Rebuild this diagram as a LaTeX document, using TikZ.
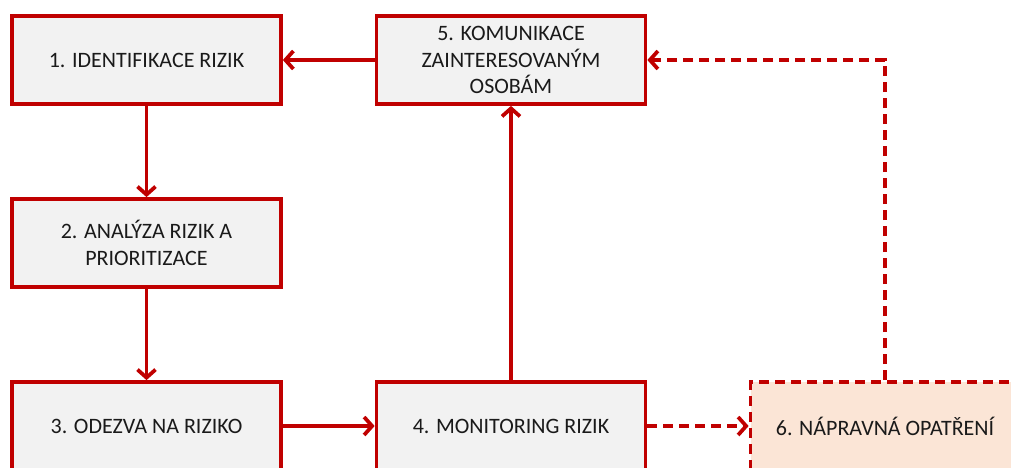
\documentclass[tikz,border=0pt]{standalone}
\usepackage{fontspec}
\setmainfont{Carlito}
\usetikzlibrary{arrows.meta}
\definecolor{rred}{HTML}{C00000}
\definecolor{boxgray}{HTML}{F2F2F2}
\definecolor{peach}{HTML}{FBE5D6}
\definecolor{txt}{HTML}{1A1A1A}
\begin{document}
\begin{tikzpicture}[x=1pt,y=-1pt,
  box/.style={draw=rred, line width=3.75pt, fill=boxgray, minimum width=269pt, minimum height=88pt,
    align=center, font=\fontsize{22}{26.5}\selectfont, text=txt, inner sep=0pt},
  conn/.style={draw=rred, line width=3.75pt, -{Straight Barb[length=8pt,width=18pt,line width=3.75pt]}},
  dashedline/.style={dash pattern=on 10pt off 6pt}]
\useasboundingbox (0,0) rectangle (1011,468);
\clip (0,0) rectangle (1011,468);
\node[box] (b1) at (146.5,60) {1. IDENTIFIKACE RIZIK};
\node[box] (b5) at (511,60) {5. KOMUNIKACE\\ZAINTERESOVANÝM\\OSOBÁM};
\node[box] (b2) at (146.5,243) {2. ANALÝZA RIZIK A\\PRIORITIZACE};
\node[box] (b3) at (146.5,426) {3. ODEZVA NA RIZIKO};
\node[box] (b4) at (511,426) {4. MONITORING RIZIK};
\node[box, fill=peach, dashedline] (b6) at (885,426) {6. NÁPRAVNÁ OPATŘENÍ};
\draw[conn] (b5) -- (b1);
\draw[conn] (b1) -- (b2);
\draw[conn] (b2) -- (b3);
\draw[conn] (b3) -- (b4);
\draw[conn] (b4) -- (b5);
\draw[conn, dashedline] (b4) -- (b6);
\draw[conn, dashedline] (b6.north) |- (b5.east);
\end{tikzpicture}
\end{document}
